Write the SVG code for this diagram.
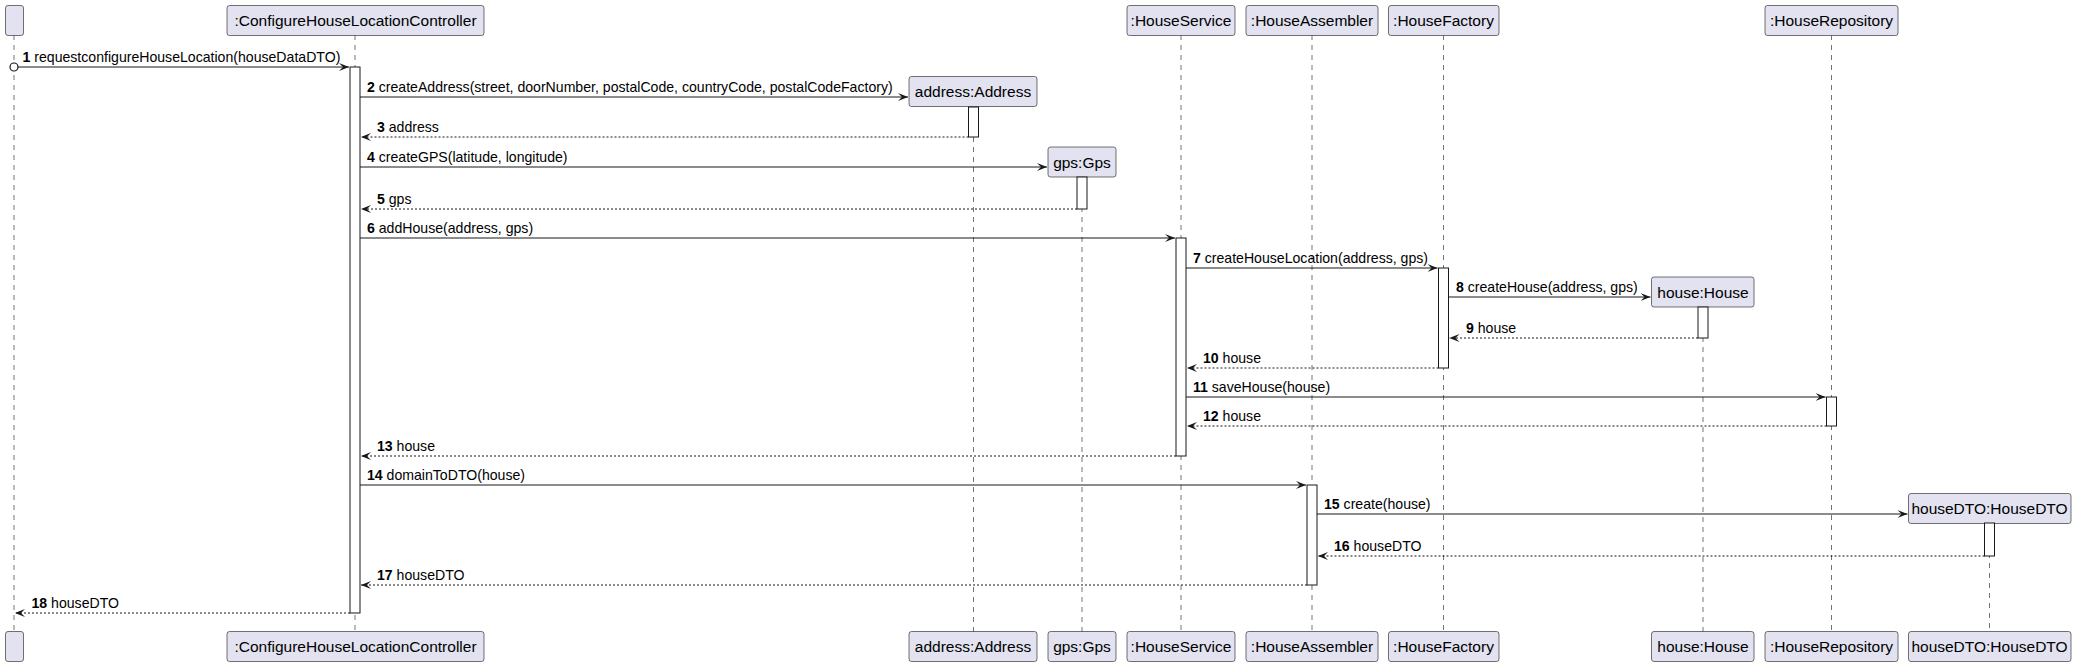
<svg xmlns="http://www.w3.org/2000/svg" width="2076" height="667" viewBox="0 0 2076 667">
<defs>
<style>
.pbox{fill:#E2E2F0;stroke:#181818;stroke-width:0.6}
.ptxt{font-family:"Liberation Sans",Arial,sans-serif;font-size:15.5px;fill:#000;text-anchor:middle}
.life{stroke:#181818;stroke-width:0.6;stroke-dasharray:5,5;fill:none}
.act{fill:#fff;stroke:#181818;stroke-width:1}
.msg{stroke:#181818;stroke-width:1;fill:none}
.ret{stroke:#181818;stroke-width:1;fill:none;stroke-dasharray:2,2}
.mtxt{font-family:"Liberation Sans",Arial,sans-serif;font-size:14.1px;fill:#000}
.num{font-weight:bold}
</style>
<marker id="ah" viewBox="0 0 10 8" refX="10" refY="4" markerWidth="10" markerHeight="8" markerUnits="userSpaceOnUse" orient="auto">
<polygon points="0,0 10,4 0,8 4,4" fill="#181818"/>
</marker>
</defs>
<rect width="2076" height="667" fill="#fff"/>

<g id="lifelines">
<line class="life" x1="14" y1="35" x2="14" y2="632"/>
<line class="life" x1="355" y1="35" x2="355" y2="632"/>
<line class="life" x1="973.5" y1="107" x2="973.5" y2="632"/>
<line class="life" x1="1082" y1="177" x2="1082" y2="632"/>
<line class="life" x1="1181" y1="35" x2="1181" y2="632"/>
<line class="life" x1="1312" y1="35" x2="1312" y2="632"/>
<line class="life" x1="1443.5" y1="35" x2="1443.5" y2="632"/>
<line class="life" x1="1703" y1="307" x2="1703" y2="632"/>
<line class="life" x1="1831.5" y1="35" x2="1831.5" y2="632"/>
<line class="life" x1="1989.5" y1="523" x2="1989.5" y2="632"/>
</g>

<g id="p-anon">
<rect class="pbox" x="5.5" y="5.5" width="18" height="30" rx="2.5"/>
<rect class="pbox" x="5.5" y="631.5" width="18" height="30" rx="2.5"/>
</g>
<g id="p-controller">
<rect class="pbox" x="227" y="5.5" width="257" height="30" rx="2.5"/>
<text class="ptxt" x="355.5" y="26">:ConfigureHouseLocationController</text>
<rect class="pbox" x="227" y="631.5" width="257" height="30" rx="2.5"/>
<text class="ptxt" x="355.5" y="652">:ConfigureHouseLocationController</text>
</g>
<g id="p-address">
<rect class="pbox" x="909" y="76.5" width="128" height="30" rx="2.5"/>
<text class="ptxt" x="973" y="97">address:Address</text>
<rect class="pbox" x="909" y="631.5" width="128" height="30" rx="2.5"/>
<text class="ptxt" x="973" y="652">address:Address</text>
</g>
<g id="p-gps">
<rect class="pbox" x="1048" y="147" width="68" height="30" rx="2.5"/>
<text class="ptxt" x="1082" y="167.5">gps:Gps</text>
<rect class="pbox" x="1048" y="631.5" width="68" height="30" rx="2.5"/>
<text class="ptxt" x="1082" y="652">gps:Gps</text>
</g>
<g id="p-houseservice">
<rect class="pbox" x="1127" y="5.5" width="108" height="30" rx="2.5"/>
<text class="ptxt" x="1181" y="26">:HouseService</text>
<rect class="pbox" x="1127" y="631.5" width="108" height="30" rx="2.5"/>
<text class="ptxt" x="1181" y="652">:HouseService</text>
</g>
<g id="p-houseassembler">
<rect class="pbox" x="1246" y="5.5" width="132" height="30" rx="2.5"/>
<text class="ptxt" x="1312" y="26">:HouseAssembler</text>
<rect class="pbox" x="1246" y="631.5" width="132" height="30" rx="2.5"/>
<text class="ptxt" x="1312" y="652">:HouseAssembler</text>
</g>
<g id="p-housefactory">
<rect class="pbox" x="1388.5" y="5.5" width="110.5" height="30" rx="2.5"/>
<text class="ptxt" x="1443.5" y="26">:HouseFactory</text>
<rect class="pbox" x="1388.5" y="631.5" width="110.5" height="30" rx="2.5"/>
<text class="ptxt" x="1443.5" y="652">:HouseFactory</text>
</g>
<g id="p-house">
<rect class="pbox" x="1651.5" y="277" width="102.5" height="30" rx="2.5"/>
<text class="ptxt" x="1703" y="297.5">house:House</text>
<rect class="pbox" x="1651.5" y="631.5" width="102.5" height="30" rx="2.5"/>
<text class="ptxt" x="1703" y="652">house:House</text>
</g>
<g id="p-houserepository">
<rect class="pbox" x="1765" y="5.5" width="133" height="30" rx="2.5"/>
<text class="ptxt" x="1831.5" y="26">:HouseRepository</text>
<rect class="pbox" x="1765" y="631.5" width="133" height="30" rx="2.5"/>
<text class="ptxt" x="1831.5" y="652">:HouseRepository</text>
</g>
<g id="p-housedto">
<rect class="pbox" x="1908.5" y="493.5" width="162.5" height="30" rx="2.5"/>
<text class="ptxt" x="1989.5" y="514">houseDTO:HouseDTO</text>
<rect class="pbox" x="1908.5" y="631.5" width="162.5" height="30" rx="2.5"/>
<text class="ptxt" x="1989.5" y="652">houseDTO:HouseDTO</text>
</g>

<g id="activations">
<rect class="act" x="350" y="67" width="10" height="546"/>
<rect class="act" x="968.5" y="107" width="10" height="30"/>
<rect class="act" x="1077" y="177" width="10" height="32"/>
<rect class="act" x="1176" y="238" width="10" height="218"/>
<rect class="act" x="1438.5" y="268" width="10" height="100"/>
<rect class="act" x="1698" y="307" width="10" height="31"/>
<rect class="act" x="1826.5" y="397" width="10" height="29"/>
<rect class="act" x="1307" y="485" width="10" height="100"/>
<rect class="act" x="1984.5" y="523" width="10" height="33"/>
</g>

<g id="connectors">
<circle cx="14" cy="67" r="4" fill="#fff" stroke="#181818" stroke-width="1.2"/>
<line class="msg" x1="18" y1="67" x2="349" y2="67" marker-end="url(#ah)"/>
<text class="mtxt" x="22.5" y="62"><tspan class="num">1</tspan> requestconfigureHouseLocation(houseDataDTO)</text>

<line class="msg" x1="360" y1="97" x2="908" y2="97" marker-end="url(#ah)"/>
<text class="mtxt" x="367" y="92"><tspan class="num">2</tspan> createAddress(street, doorNumber, postalCode, countryCode, postalCodeFactory)</text>

<line class="ret" x1="968.5" y1="137" x2="361" y2="137" marker-end="url(#ah)"/>
<text class="mtxt" x="377" y="132"><tspan class="num">3</tspan> address</text>

<line class="msg" x1="360" y1="167" x2="1047" y2="167" marker-end="url(#ah)"/>
<text class="mtxt" x="367" y="162"><tspan class="num">4</tspan> createGPS(latitude, longitude)</text>

<line class="ret" x1="1077" y1="209" x2="361" y2="209" marker-end="url(#ah)"/>
<text class="mtxt" x="377" y="204"><tspan class="num">5</tspan> gps</text>

<line class="msg" x1="360" y1="238" x2="1175" y2="238" marker-end="url(#ah)"/>
<text class="mtxt" x="367" y="233"><tspan class="num">6</tspan> addHouse(address, gps)</text>

<line class="msg" x1="1186" y1="268" x2="1437.5" y2="268" marker-end="url(#ah)"/>
<text class="mtxt" x="1193" y="263"><tspan class="num">7</tspan> createHouseLocation(address, gps)</text>

<line class="msg" x1="1448.5" y1="297" x2="1650.5" y2="297" marker-end="url(#ah)"/>
<text class="mtxt" x="1456" y="292"><tspan class="num">8</tspan> createHouse(address, gps)</text>

<line class="ret" x1="1698" y1="338" x2="1449.5" y2="338" marker-end="url(#ah)"/>
<text class="mtxt" x="1466" y="333"><tspan class="num">9</tspan> house</text>

<line class="ret" x1="1438.5" y1="368" x2="1187" y2="368" marker-end="url(#ah)"/>
<text class="mtxt" x="1203" y="363"><tspan class="num">10</tspan> house</text>

<line class="msg" x1="1186" y1="397" x2="1825.5" y2="397" marker-end="url(#ah)"/>
<text class="mtxt" x="1193" y="392"><tspan class="num">11</tspan> saveHouse(house)</text>

<line class="ret" x1="1826.5" y1="426" x2="1187" y2="426" marker-end="url(#ah)"/>
<text class="mtxt" x="1203" y="421"><tspan class="num">12</tspan> house</text>

<line class="ret" x1="1176" y1="456" x2="361" y2="456" marker-end="url(#ah)"/>
<text class="mtxt" x="377" y="451"><tspan class="num">13</tspan> house</text>

<line class="msg" x1="360" y1="485" x2="1306" y2="485" marker-end="url(#ah)"/>
<text class="mtxt" x="367" y="480"><tspan class="num">14</tspan> domainToDTO(house)</text>

<line class="msg" x1="1317" y1="514" x2="1907.5" y2="514" marker-end="url(#ah)"/>
<text class="mtxt" x="1324" y="509"><tspan class="num">15</tspan> create(house)</text>

<line class="ret" x1="1984.5" y1="556" x2="1318" y2="556" marker-end="url(#ah)"/>
<text class="mtxt" x="1334" y="551"><tspan class="num">16</tspan> houseDTO</text>

<line class="ret" x1="1307" y1="585" x2="361" y2="585" marker-end="url(#ah)"/>
<text class="mtxt" x="377" y="580"><tspan class="num">17</tspan> houseDTO</text>

<line class="ret" x1="350" y1="613" x2="15" y2="613" marker-end="url(#ah)"/>
<text class="mtxt" x="31.5" y="608"><tspan class="num">18</tspan> houseDTO</text>
</g>
</svg>
